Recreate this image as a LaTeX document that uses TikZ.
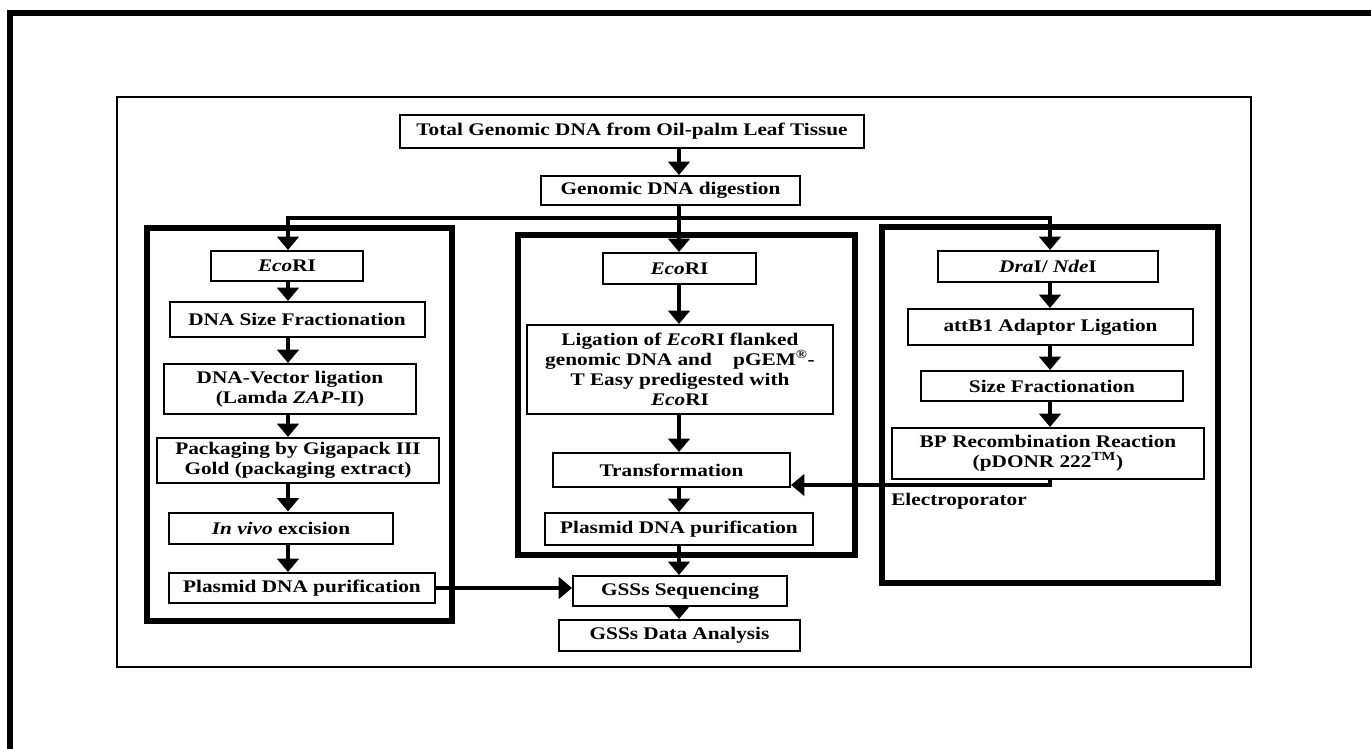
\documentclass[tikz,border=0pt]{standalone}
\usepackage{fontspec}
\setmainfont{Liberation Serif}[FakeStretch=1.2]
\usetikzlibrary{arrows.meta}
\newcommand\mybox[6]{\node[box,minimum width=#4*0.75pt,minimum height=#5*0.75pt] (#1) at (#2,#3) {#6};}
\begin{document}
\begin{tikzpicture}[x=0.75pt,y=-0.75pt,
  box/.style={draw,line width=1.5pt,inner sep=0pt,align=center,font=\fontsize{13.3}{15}\selectfont\bfseries},
  lbl/.style={inner sep=0pt,font=\fontsize{13.3}{15}\selectfont\bfseries},
  panel/.style={draw,line width=4.5pt},
  conn/.style={line width=2.6pt},
  arr/.style={line width=2.6pt,-{Triangle[width=16pt,length=10pt]}}]
\useasboundingbox (0,0) rectangle (1371,749);
% page frame
\draw[line width=4.5pt] (1390,13) -- (10,13) -- (10,770);
% outer thin frame
\draw[line width=1.9pt] (117,97) rectangle (1251,667);
% panels
\draw[panel] (147,228) rectangle (452,621);
\draw[panel] (518,235) rectangle (855,555);
\draw[panel] (882,227) rectangle (1218,583);
% nodes
\mybox{total}{632}{131.5}{464}{33}{Total Genomic DNA from Oil-palm Leaf Tissue}
\mybox{gdig}{670.5}{190.5}{259}{29}{Genomic DNA digestion}
% left column
\mybox{lEco}{287}{266}{152}{30}{\textit{Eco}RI}
\mybox{lsize}{297}{319.5}{255}{35}{DNA Size Fractionation}
\mybox{lvec}{290}{389}{252}{50}{DNA-Vector ligation\\(Lamda \textit{ZAP}-II)}
\mybox{lpack}{298}{460.5}{282}{45}{Packaging by Gigapack III\\Gold (packaging extract)}
\mybox{lvivo}{281}{528}{224}{31}{\textit{In vivo} excision}
\mybox{lplas}{302}{588}{266}{30}{Plasmid DNA purification}
% middle column
\mybox{mEco}{679.5}{268.5}{153}{31}{\textit{Eco}RI}
\mybox{mlig}{680}{369.5}{306}{89}{Ligation of \textit{Eco}RI flanked\\genomic DNA and\hspace{1.2em}pGEM\textsuperscript{®}-\\T Easy predigested with\\\textit{Eco}RI}
\mybox{mtrans}{671.5}{470}{237}{34}{Transformation}
\mybox{mplas}{679}{529}{268}{32}{Plasmid DNA purification}
\mybox{gseq}{680}{591}{214}{30}{GSSs Sequencing}
\mybox{gdata}{679.5}{635.5}{241}{31}{GSSs Data Analysis}
% right column
\mybox{rdra}{1048}{266.5}{220}{31}{\textit{Dra}I/ \textit{Nde}I}
\mybox{ratt}{1050.5}{327}{285}{36}{attB1 Adaptor Ligation}
\mybox{rsize}{1052}{386}{262}{30}{Size Fractionation}
\mybox{rbp}{1048}{453.5}{312}{51}{BP Recombination Reaction\\(pDONR 222\textsuperscript{TM})}
\node[lbl,anchor=west] (elec) at (891,501) {Electroporator};
% coordinates
\coordinate (tx) at (679,218);
\coordinate (lx) at (288,218);
\coordinate (rx) at (1050,218);
\coordinate (bpd) at (1050,485);
% connectors
\draw[arr] (total.south -| tx) -- (gdig.north -| tx);
\draw[arr] (gdig.south -| tx) -- (mEco.north -| tx);
\draw[arr] (tx) -- (lx) -- (lEco.north -| lx);
\draw[arr] (tx) -- (rx) -- (rdra.north -| rx);
% left
\draw[arr] (lEco.south -| lx) -- (lsize.north -| lx);
\draw[arr] (lsize.south -| lx) -- (lvec.north -| lx);
\draw[arr] (lvec.south -| lx) -- (lpack.north -| lx);
\draw[arr] (lpack.south -| lx) -- (lvivo.north -| lx);
\draw[arr] (lvivo.south -| lx) -- (lplas.north -| lx);
\draw[arr] (lplas.east) -- (gseq.west |- lplas.east);
% middle
\draw[arr] (mEco.south -| tx) -- (mlig.north -| tx);
\draw[arr] (mlig.south -| tx) -- (mtrans.north -| tx);
\draw[arr] (mtrans.south -| tx) -- (mplas.north -| tx);
\draw[arr] (mplas.south -| tx) -- (gseq.north -| tx);
\draw[arr] (gseq.south -| tx) -- (gdata.north -| tx);
% right
\draw[arr] (rdra.south -| rx) -- (ratt.north -| rx);
\draw[arr] (ratt.south -| rx) -- (rsize.north -| rx);
\draw[arr] (rsize.south -| rx) -- (rbp.north -| rx);
\draw[arr] (rbp.south -| rx) -- (bpd) -- (mtrans.east |- bpd);
\end{tikzpicture}
\end{document}
